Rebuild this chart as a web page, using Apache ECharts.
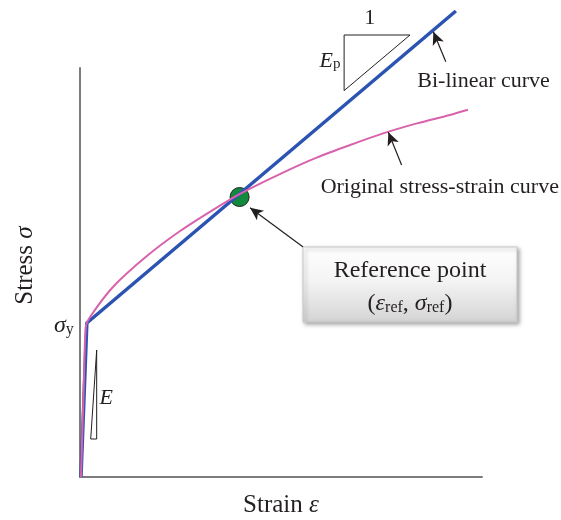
<!DOCTYPE html>
<html>
<head>
<meta charset="utf-8">
<script src="https://cdn.jsdelivr.net/npm/echarts@6/dist/echarts.min.js"></script>
<style>
  html, body { margin: 0; padding: 0; background: #fff; }
  #main { width: 561px; height: 520px; }
</style>
</head>
<body>
<div id="main"></div>
<script>
// strain (x) / stress (y) in arbitrary units
var bilinear = [[0.25, 0], [1.7, 38.5], [93.5, 116.5]];
var original = [
    [0.25, 0], [0.9, 22], [1.45, 37.5], [2.5, 40], [8.2, 47.5], [16.7, 55.3],
    [24.9, 61.5], [33.1, 66.8], [39.8, 70.8], [50.5, 76.1], [59, 79.9],
    [67.2, 83], [75.4, 85.9], [83.8, 88.4], [92, 90.5], [96.5, 91.8]
];
var refPoint = [39.7, 70];

// slope triangles
var triEp = [[65.7, 110.5], [82.1, 110.5], [65.7, 96.6], [65.7, 110.5]];
var triE = [[4.15, 31.75], [4.15, 9.5], [2.66, 9.5], [4.15, 31.75]];

// annotation arrows: [tail, head]
var arrows = [
    [[91.0, 103.8], [87.9, 111.3]],
    [[80.0, 78.0], [76.7, 86.2]],
    [[55.5, 57.5], [42.3, 67.3]]
];

var serif = 'Liberation Serif';
var ink = '#231f20';

var myChart = echarts.init(document.getElementById('main'));

function textItem(pos, text, rich) {
    return {
        value: pos,
        label: {
            show: true, position: 'inside', formatter: text, rich: rich,
            color: ink, textBorderWidth: 0, fontFamily: serif
        }
    };
}

var labels = [
    textItem([72.1, 114.8], '{t|1}', { t: { fontFamily: serif, fontSize: 22, color: ink } }),
    textItem([62.2, 104.3], '{i|E}{s|p}', {
        i: { fontFamily: serif, fontStyle: 'italic', fontSize: 22, color: ink, verticalAlign: 'bottom', lineHeight: 24 },
        s: { fontFamily: serif, fontSize: 15, color: ink, verticalAlign: 'bottom', lineHeight: 14 }
    }),
    textItem([100.4, 99], '{t|Bi-linear curve}', { t: { fontFamily: serif, fontSize: 22, color: ink } }),
    textItem([89.5, 72.5], '{t|Original stress-strain curve}', { t: { fontFamily: serif, fontSize: 22, color: ink } }),
    textItem([-4.0, 37.8], '{i|σ}{s|y}', {
        i: { fontFamily: serif, fontStyle: 'italic', fontSize: 24, color: ink, verticalAlign: 'bottom', lineHeight: 24 },
        s: { fontFamily: serif, fontSize: 16, color: ink, verticalAlign: 'bottom', lineHeight: 14 }
    }),
    textItem([6.5, 19.8], '{i|E}', { i: { fontFamily: serif, fontStyle: 'italic', fontSize: 22, color: ink } })
];

var option = {
    animation: false,
    backgroundColor: '#fff',
    grid: [
        { left: 80, right: 79, top: 68, bottom: 43, outerBoundsMode: 'none', containLabel: false },
        { left: 80, right: 79, top: 11, bottom: 43, outerBoundsMode: 'none', containLabel: false }
    ],
    xAxis: [{
        gridIndex: 0, type: 'value', min: 0, max: 100,
        axisLine: { show: true, lineStyle: { color: '#7c7c7c', width: 2 } },
        axisTick: { show: false }, axisLabel: { show: false }, splitLine: { show: false },
        name: '{n|Strain }{g|ε}',
        nameLocation: 'middle', nameGap: 16,
        nameTextStyle: {
            rich: {
                n: { fontFamily: serif, fontSize: 25, color: ink },
                g: { fontFamily: serif, fontStyle: 'italic', fontSize: 25, color: ink }
            }
        }
    }, {
        gridIndex: 1, type: 'value', min: 0, max: 100, show: false
    }],
    yAxis: [{
        gridIndex: 0, type: 'value', min: 0, max: 102.25,
        axisLine: { show: true, lineStyle: { color: '#7c7c7c', width: 2 } },
        axisTick: { show: false }, axisLabel: { show: false }, splitLine: { show: false },
        name: '{n|Stress }{g|σ}',
        nameLocation: 'middle', nameGap: 42, nameRotate: 90,
        nameTextStyle: {
            padding: [0, 0, 0, 14],
            rich: {
                n: { fontFamily: serif, fontSize: 25, color: ink },
                g: { fontFamily: serif, fontStyle: 'italic', fontSize: 25, color: ink }
            }
        }
    }, {
        gridIndex: 1, type: 'value', min: 0, max: 116.5, show: false
    }],
    series: [{
        name: 'Reference point',
        type: 'scatter', xAxisIndex: 1, yAxisIndex: 1, z: 1,
        symbolSize: 19,
        itemStyle: { color: '#118a3c', borderColor: '#222', borderWidth: 1, opacity: 1 },
        data: [refPoint]
    }, {
        name: 'Bi-linear curve',
        type: 'line', xAxisIndex: 1, yAxisIndex: 1, z: 3,
        showSymbol: false, clip: false,
        lineStyle: { color: '#2b53b2', width: 3.5 },
        data: bilinear,
        markLine: {
            silent: true,
            symbol: ['none', 'arrow'],
            symbolSize: [9, 13],
            label: { show: false },
            lineStyle: { color: ink, width: 1.2, type: 'solid' },
            data: arrows.map(function(a) {
                return [{ coord: a[0] }, { coord: a[1] }];
            })
        }
    }, {
        name: 'Original stress-strain curve',
        type: 'line', xAxisIndex: 1, yAxisIndex: 1, z: 4,
        showSymbol: false, clip: false,
        smooth: 0.25,
        lineStyle: { color: '#d862ab', width: 2 },
        data: original
    }, {
        type: 'line', xAxisIndex: 1, yAxisIndex: 1, z: 4,
        showSymbol: false, clip: false,
        lineStyle: { color: ink, width: 1 },
        data: triEp
    }, {
        type: 'line', xAxisIndex: 1, yAxisIndex: 1, z: 4,
        showSymbol: false, clip: false,
        lineStyle: { color: ink, width: 1 },
        data: triE
    }, {
        type: 'scatter', xAxisIndex: 1, yAxisIndex: 1, z: 5,
        symbolSize: 0, clip: false,
        itemStyle: { color: 'rgba(0,0,0,0)', opacity: 1 },
        data: labels
    }],
    graphic: [{
        type: 'rect',
        z: 10,
        shape: { x: 303, y: 247, width: 214, height: 75 },
        style: {
            fill: new echarts.graphic.LinearGradient(0, 0, 0, 1, [
                { offset: 0, color: '#ffffff' },
                { offset: 0.45, color: '#f4f4f4' },
                { offset: 1, color: '#d4d4d4' }
            ]),
            stroke: '#c8c8c8',
            lineWidth: 1,
            shadowBlur: 4,
            shadowOffsetX: 2,
            shadowOffsetY: 2,
            shadowColor: 'rgba(0,0,0,0.35)'
        }
    }, {
        type: 'text',
        z: 11,
        x: 410, y: 271,
        style: {
            text: 'Reference point',
            font: '24px "Liberation Serif"',
            fill: ink,
            align: 'center',
            verticalAlign: 'middle'
        }
    }, {
        type: 'text',
        z: 11,
        x: 410, y: 303,
        style: {
            text: '{p|(}{i|ε}{s|ref}{p|, }{i|σ}{s|ref}{p|)}',
            align: 'center',
            verticalAlign: 'middle',
            rich: {
                p: { fontFamily: serif, fontSize: 24, fill: ink, verticalAlign: 'bottom', lineHeight: 26 },
                i: { fontFamily: serif, fontStyle: 'italic', fontSize: 24, fill: ink, verticalAlign: 'bottom', lineHeight: 26 },
                s: { fontFamily: serif, fontSize: 16, fill: ink, verticalAlign: 'bottom', lineHeight: 14 }
            }
        }
    }]
};

myChart.setOption(option);
</script>
</body>
</html>
